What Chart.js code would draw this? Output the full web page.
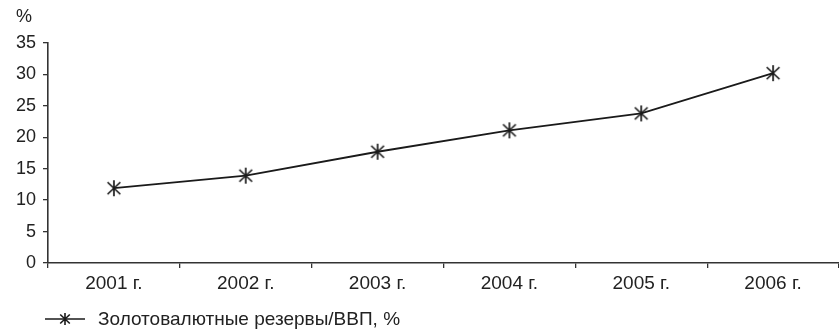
<!DOCTYPE html>
<html>
<head>
<meta charset="utf-8">
<script src="https://cdn.jsdelivr.net/npm/chart.js@4.4.0/dist/chart.umd.min.js"></script>
<style>
  body { margin: 0; background: #fff; font-family: "Liberation Sans", Arial, sans-serif; }
  #wrap { position: relative; width: 839px; height: 334px; }
  #unit { position: absolute; left: 16px; top: 6px; font-size: 18px; color: #222; }
  #legend { position: absolute; left: 44px; top: 308px; font-size: 19px; color: #222; display: flex; align-items: center; }
  #legend canvas { margin-right: 12px; }
</style>
</head>
<body>
<div id="wrap">
  <canvas id="chart" width="839" height="334"></canvas>
  <div id="unit">%</div>
  <div id="legend"><canvas id="legendMark" width="42" height="20"></canvas><span id="legendText"></span></div>
</div>
<script>
// chart data
const years = ['2001 г.', '2002 г.', '2003 г.', '2004 г.', '2005 г.', '2006 г.'];
const reservesToGdp = [11.9, 13.9, 17.7, 21.1, 23.8, 30.2];
const seriesName = 'Золотовалютные резервы/ВВП, %';

const ink = '#1a1a1a';
const textColor = '#222';

// asterisk marker (X + vertical stroke), like the Excel "*" marker
function asteriskAt(c, cx, cy, r) {
    c.beginPath();
    c.moveTo(cx, cy - r); c.lineTo(cx, cy + r);
    c.moveTo(cx - r * 0.8, cy - r * 0.75); c.lineTo(cx + r * 0.8, cy + r * 0.75);
    c.moveTo(cx - r * 0.8, cy + r * 0.75); c.lineTo(cx + r * 0.8, cy - r * 0.75);
    c.stroke();
}

function makeMarker(r) {
    const cv = document.createElement('canvas');
    cv.width = r * 2 + 4;
    cv.height = r * 2 + 4;
    const c = cv.getContext('2d');
    c.strokeStyle = ink;
    c.lineWidth = 1.7;
    asteriskAt(c, cv.width / 2, cv.height / 2, r);
    return cv;
}

window.onload = function() {
    const ctx = document.getElementById('chart').getContext('2d');
    const marker = makeMarker(8);

    new Chart(ctx, {
        type: 'line',
        data: {
            labels: years,
            datasets: [{
                label: seriesName,
                data: reservesToGdp,
                borderColor: ink,
                borderWidth: 1.8,
                pointStyle: marker,
                pointRadius: 8,
                tension: 0
            }]
        },
        options: {
            responsive: false,
            animation: false,
            layout: { autoPadding: false, padding: { top: 43, right: 0, left: 0, bottom: 0 } },
            plugins: {
                legend: { display: false },
                tooltip: { enabled: false }
            },
            scales: {
                x: {
                    offset: true,
                    grid: {
                        offset: true,
                        drawOnChartArea: false,
                        drawTicks: true,
                        tickLength: 5,
                        color: '#333',
                        lineWidth: 1.3
                    },
                    border: { color: '#333', width: 1.6 },
                    ticks: { color: textColor, font: { size: 19, family: 'Liberation Sans' }, padding: 4, maxRotation: 0 },
                    afterFit: (scale) => { scale.height = 71; }
                },
                y: {
                    min: 0,
                    max: 35,
                    ticks: { stepSize: 5, color: textColor, font: { size: 18, family: 'Liberation Sans' }, padding: 7 },
                    grid: {
                        drawOnChartArea: false,
                        drawTicks: true,
                        tickLength: 5,
                        color: '#333',
                        lineWidth: 1.3
                    },
                    border: { color: '#333', width: 1.6 },
                    afterFit: (scale) => { scale.width = 48; }
                }
            }
        }
    });

    // legend marker: line with asterisk
    const lc = document.getElementById('legendMark').getContext('2d');
    lc.strokeStyle = ink;
    lc.lineWidth = 1.6;
    lc.beginPath();
    lc.moveTo(1, 10); lc.lineTo(41, 10);
    lc.stroke();
    asteriskAt(lc, 21, 10, 6);
    document.getElementById('legendText').textContent = seriesName;
};
</script>
</body>
</html>
